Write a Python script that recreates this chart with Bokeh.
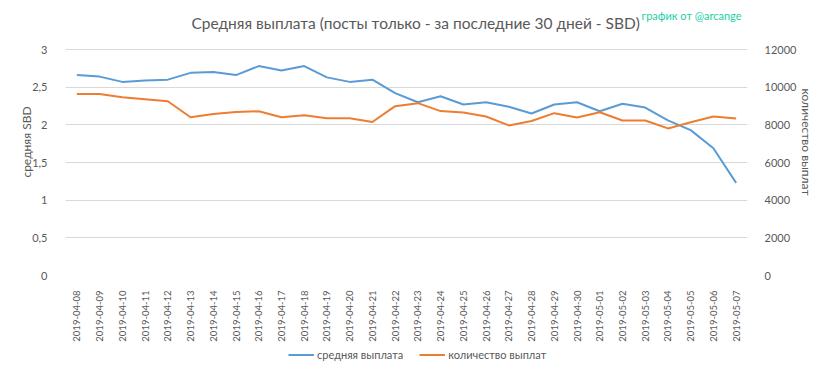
import math
from bokeh.plotting import figure
from bokeh.layouts import column
from bokeh.models import (Range1d, LinearAxis, FactorRange, FixedTicker, Label,
                          Legend, LegendItem, ColumnDataSource)
from bokeh.embed import file_html
from bokeh.resources import INLINE

dates = ["2019-04-08", "2019-04-09", "2019-04-10", "2019-04-11", "2019-04-12",
         "2019-04-13", "2019-04-14", "2019-04-15", "2019-04-16", "2019-04-17",
         "2019-04-18", "2019-04-19", "2019-04-20", "2019-04-21", "2019-04-22",
         "2019-04-23", "2019-04-24", "2019-04-25", "2019-04-26", "2019-04-27",
         "2019-04-28", "2019-04-29", "2019-04-30", "2019-05-01", "2019-05-02",
         "2019-05-03", "2019-05-04", "2019-05-05", "2019-05-06", "2019-05-07"]
avg_payout = [2.66, 2.64, 2.57, 2.59, 2.60, 2.69, 2.70, 2.66, 2.78, 2.72,
              2.78, 2.63, 2.57, 2.60, 2.42, 2.30, 2.38, 2.27, 2.30, 2.24,
              2.15, 2.27, 2.30, 2.18, 2.28, 2.23, 2.06, 1.93, 1.69, 1.23]
payout_count = [9640, 9640, 9470, 9360, 9250, 8400, 8580, 8680, 8720, 8400,
                8510, 8350, 8350, 8150, 8990, 9150, 8730, 8660, 8440, 7970,
                8200, 8620, 8390, 8670, 8230, 8230, 7810, 8140, 8440, 8340]
left_ticks = [0, 0.5, 1, 1.5, 2, 2.5, 3]
left_tick_labels = ["0", "0,5", "1", "1,5", "2", "2,5", "3"]
right_ticks = [0, 2000, 4000, 6000, 8000, 10000, 12000]

title_text = "Средняя выплата (посты только - за последние 30 дней - SBD)"
credit_text = "график от @arcange"
left_title = "средняя SBD"
right_title = "количество выплат"
series_names = ["средняя выплата", "количество выплат"]

FONT = "Lato"
TXT = "#595959"
BLUE = "#5B9BD5"
ORANGE = "#ED7D31"
GRID = "#D9D9D9"

W, H_MAIN, H_LEG = 817, 345, 18
B_LEFT, B_RIGHT, B_TOP, B_BOTTOM = 65, 64, 8, 70
# the frame reaches up into the title area; value axes stay 0..3 / 0..12000
frame_h = H_MAIN - B_TOP - B_BOTTOM
axis_h = 226.0
top_frac = frame_h / axis_h
L_MAX, R_MAX = 3.0, 12000.0

src = ColumnDataSource(dict(d=dates, a=avg_payout, c=payout_count))

p = figure(width=W, height=H_MAIN,
           x_range=FactorRange(factors=dates, range_padding=0),
           y_range=Range1d(0, L_MAX * top_frac),
           output_backend="svg", toolbar_location=None,
           min_border_left=B_LEFT, min_border_right=B_RIGHT,
           min_border_top=B_TOP, min_border_bottom=B_BOTTOM)
p.extra_y_ranges = {"cnt": Range1d(0, R_MAX * top_frac)}
p.outline_line_color = None

p.line("d", "a", source=src, line_color=BLUE, line_width=2)
p.line("d", "c", source=src, line_color=ORANGE, line_width=2, y_range_name="cnt")

p.xgrid.visible = False
p.ygrid.grid_line_color = GRID
p.ygrid.ticker = FixedTicker(ticks=left_ticks)

ra = LinearAxis(y_range_name="cnt")
p.add_layout(ra, "right")

for ax in [p.xaxis[0], p.yaxis[0], ra]:
    ax.axis_line_color = None
    ax.major_tick_line_color = None
    ax.minor_tick_line_color = None
    ax.major_label_text_color = TXT
    ax.major_label_text_font_size = "11px"
    ax.major_label_text_font = FONT
    ax.axis_label_text_font = FONT
    ax.axis_label_text_font_size = "12px"
    ax.axis_label_text_font_style = "normal"
    ax.axis_label_text_color = TXT

p.yaxis[0].ticker = FixedTicker(ticks=left_ticks)
p.yaxis[0].major_label_overrides = {t: l for t, l in zip(left_ticks, left_tick_labels)}
p.yaxis[0].major_label_standoff = 12
p.yaxis[0].axis_label = left_title
p.yaxis[0].axis_label_standoff = -5
ra.ticker = FixedTicker(ticks=right_ticks)
ra.major_label_standoff = 11
ra.axis_label = right_title
ra.axis_label_standoff = 0
p.xaxis[0].major_label_orientation = math.pi / 2
p.xaxis[0].major_label_standoff = 9
p.xaxis[0].major_label_text_font_size = "9.5px"

p.add_layout(Label(x=350, y=253, x_units="screen", y_units="screen",
                   text=title_text, text_align="center", text_baseline="middle",
                   text_font=FONT, text_font_size="15.5px", text_color=TXT))
p.add_layout(Label(x=676, y=260, x_units="screen", y_units="screen",
                   text=credit_text, text_align="right", text_baseline="middle",
                   text_font=FONT, text_font_size="11px", text_color="#22CFA5"))

# legend strip under the chart (proxy lines lie outside its visible range)
pl = figure(width=W, height=H_LEG,
            x_range=FactorRange(factors=dates, range_padding=0),
            y_range=Range1d(-2, -1),
            x_axis_type=None, y_axis_type=None, output_backend="svg",
            toolbar_location=None, min_border=0)
pl.grid.visible = False
pl.outline_line_color = None
lr1 = pl.line(x=dates, y=avg_payout, line_color=BLUE, line_width=2)
lr2 = pl.line(x=dates, y=payout_count, line_color=ORANGE, line_width=2)
legend = Legend(items=[LegendItem(label=series_names[0], renderers=[lr1]),
                       LegendItem(label=series_names[1], renderers=[lr2])],
                orientation="horizontal", location=(223, 2),
                border_line_color=None, background_fill_alpha=0,
                padding=0, margin=0, spacing=16, glyph_width=26, glyph_height=13,
                label_standoff=3, label_text_font_size="11px",
                label_text_color=TXT, label_text_font=FONT)
pl.add_layout(legend)

layout = column(p, pl, spacing=0)
open("out.html", "w").write(file_html(layout, INLINE))
